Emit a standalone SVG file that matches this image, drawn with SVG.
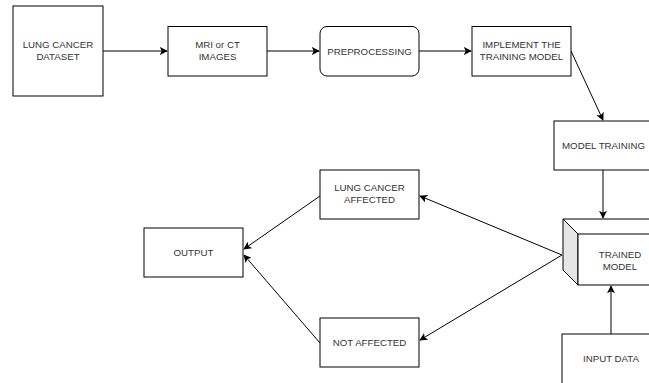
<svg xmlns="http://www.w3.org/2000/svg" width="649" height="383" viewBox="0 0 649 383">
<style>
.b{fill:#fff;stroke:#000;stroke-width:1}
.t{font-family:"Liberation Sans",Arial,sans-serif;font-size:9.7px;fill:#333;text-anchor:middle}
.c{fill:none;stroke:#000;stroke-width:1;marker-end:url(#a)}
</style>
<defs>
<marker id="a" viewBox="0 0 10 10" refX="9" refY="5" markerWidth="8" markerHeight="8" markerUnits="userSpaceOnUse" orient="auto">
<path d="M0,0 L10,5 L0,10 L2.5,5 Z" fill="#000"/>
</marker>
</defs>
<rect width="649" height="383" fill="#fff"/>
<g id="connectors">
<line class="c" x1="103" y1="51" x2="167" y2="51"/>
<line class="c" x1="267" y1="51" x2="319" y2="51"/>
<line class="c" x1="419" y1="51" x2="471" y2="51"/>
<line class="c" x1="571" y1="51" x2="603" y2="120"/>
<line class="c" x1="603" y1="170" x2="603" y2="218"/>
<line class="c" x1="611" y1="334" x2="611" y2="286"/>
<line class="c" x1="562" y1="255" x2="420" y2="196"/>
<line class="c" x1="562" y1="255" x2="420" y2="340"/>
<line class="c" x1="320" y1="196" x2="244" y2="249"/>
<line class="c" x1="320" y1="343" x2="244" y2="255"/>
</g>
<g id="lung-cancer-dataset">
<rect class="b" x="13" y="6" width="90" height="90"/>
<text class="t" x="58" y="48">LUNG CANCER</text>
<text class="t" x="58" y="60">DATASET</text>
</g>
<g id="mri-ct">
<rect class="b" x="168" y="26.5" width="99" height="49.5"/>
<text class="t" x="217.5" y="48">MRI or CT</text>
<text class="t" x="217.5" y="60">IMAGES</text>
</g>
<g id="preprocessing">
<rect class="b" x="320" y="26.5" width="99" height="49.5" rx="7"/>
<text class="t" x="369.5" y="55">PREPROCESSING</text>
</g>
<g id="implement">
<rect class="b" x="472" y="26.5" width="99" height="49.5"/>
<text class="t" x="521.5" y="48">IMPLEMENT THE</text>
<text class="t" x="521.5" y="60">TRAINING MODEL</text>
</g>
<g id="model-training">
<rect class="b" x="554" y="121" width="99" height="49"/>
<text class="t" x="603.5" y="149">MODEL TRAINING</text>
</g>
<g id="trained-model">
<path d="M563,219 L658,219 L658,270 L578,285 L563,270 Z" fill="#fff" stroke="none"/>
<path d="M563,219 L578,234 L578,285 L563,270 Z" fill="#e6e6e6" stroke="#000"/>
<rect class="b" x="578" y="234" width="80" height="51"/>
<path d="M563,219 L658,219 M563,219 L578,234" fill="none" stroke="#000"/>
<text class="t" x="620" y="258">TRAINED</text>
<text class="t" x="620" y="270">MODEL</text>
</g>
<g id="input-data">
<rect class="b" x="562" y="334" width="99" height="60"/>
<text class="t" x="611" y="362">INPUT DATA</text>
</g>
<g id="lung-cancer-affected">
<rect class="b" x="320" y="170" width="99" height="49"/>
<text class="t" x="369.5" y="191">LUNG CANCER</text>
<text class="t" x="369.5" y="203">AFFECTED</text>
</g>
<g id="output">
<rect class="b" x="144" y="228" width="99" height="49"/>
<text class="t" x="193.5" y="256">OUTPUT</text>
</g>
<g id="not-affected">
<rect class="b" x="320" y="318" width="99" height="49"/>
<text class="t" x="369.5" y="346">NOT AFFECTED</text>
</g>
</svg>
